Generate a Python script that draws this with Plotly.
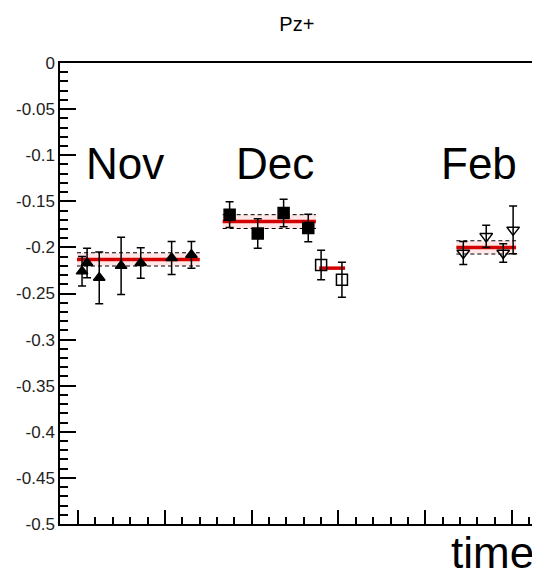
import plotly.graph_objects as go

# ---- data ----
nov_x = [0.23, 0.52, 1.22, 2.48, 3.61, 5.39, 6.53]
nov_y = [-0.226, -0.217, -0.233, -0.220, -0.217, -0.2115, -0.208]
nov_err = [0.016, 0.016, 0.028, 0.031, 0.0165, 0.018, 0.0145]

dec_x = [8.73, 10.35, 11.84, 13.26]
dec_y = [-0.1645, -0.185, -0.1627, -0.179]
dec_err = [0.014, 0.016, 0.015, 0.015]

dec2_x = [14.0, 15.2]
dec2_y = [-0.219, -0.235]
dec2_err = [0.016, 0.019]

feb_x = [22.19, 23.51, 24.49, 25.06]
feb_y = [-0.206, -0.188, -0.206, -0.181]
feb_err = [0.0125, 0.012, 0.010, 0.026]

# fits: [x_start, x_end], value, error
fit_nov_x = [-0.06, 7.01]; fit_nov_v = -0.213; fit_nov_e = 0.0072
fit_dec_x = [8.33, 13.7]; fit_dec_v = -0.172; fit_dec_e = 0.0075
fit_dec2_x = [13.89, 15.38]; fit_dec2_v = -0.2225; fit_dec2_e = 0.0
fit_feb_x = [21.79, 25.23]; fit_feb_v = -0.2; fit_feb_e = 0.0072

month_labels = ["Nov", "Dec", "Feb"]
month_x = [0.33, 8.97, 20.8]
month_y = [-0.109, -0.109, -0.109]

fig = go.Figure()

def add_fit(xr, v, e, show_dash=True):
    if e > 0:
        fig.add_trace(go.Scatter(x=[xr[0], xr[1], xr[1], xr[0], xr[0]],
                                 y=[v + e, v + e, v - e, v - e, v + e],
                                 fill="toself", fillcolor="rgba(255,120,120,0.18)",
                                 line=dict(width=0), mode="lines", hoverinfo="skip",
                                 showlegend=False))
    if show_dash and e > 0:
        for s in (1, -1):
            fig.add_trace(go.Scatter(x=xr, y=[v + s * e] * 2, mode="lines",
                                     line=dict(color="black", width=1, dash="4px,3px"),
                                     showlegend=False))
    fig.add_trace(go.Scatter(x=xr, y=[v, v], mode="lines",
                             line=dict(color="#d40000", width=3.5),
                             showlegend=False))

add_fit(fit_nov_x, fit_nov_v, fit_nov_e)
add_fit(fit_dec_x, fit_dec_v, fit_dec_e)
add_fit(fit_dec2_x, fit_dec2_v, fit_dec2_e, show_dash=False)
add_fit(fit_feb_x, fit_feb_v, fit_feb_e)

def add_pts(x, y, e, symbol, size):
    fig.add_trace(go.Scatter(
        x=x, y=y, mode="markers",
        marker=dict(symbol=symbol, size=size, color="black",
                    line=dict(color="black", width=1.5)),
        error_y=dict(type="data", array=e, visible=True, color="black",
                     thickness=1.5, width=4),
        showlegend=False))

add_pts(nov_x, nov_y, nov_err, "triangle-up", 10)
add_pts(dec_x, dec_y, dec_err, "square", 11)
add_pts(dec2_x, dec2_y, dec2_err, "square-open", 11)
add_pts(feb_x, feb_y, feb_err, "triangle-down-open", 11)

for t, x, y in zip(month_labels, month_x, month_y):
    fig.add_annotation(x=x, y=y, text=t, showarrow=False, xanchor="left",
                       yanchor="middle", font=dict(size=44, color="black",
                                                   family="Liberation Sans, Arial"))

fig.add_annotation(xref="paper", yref="paper", x=1.0, y=-0.062, text="time",
                   showarrow=False, xanchor="right", yanchor="middle", xshift=1,
                   font=dict(size=44, color="black", family="Liberation Sans, Arial"))

fig.update_layout(
    width=532, height=567,
    margin=dict(l=51.5, r=3, t=55.3, b=50.5),
    paper_bgcolor="white", plot_bgcolor="white",
    font=dict(family="Liberation Sans, Arial", color="#222"),
    title=dict(text="Pz+", x=0.543, xanchor="center", y=1 - 15.5 / 567,
               yanchor="middle", font=dict(size=20, color="black")),
    xaxis=dict(range=[-1.04, 26.32], showgrid=False, zeroline=False,
               showline=True, mirror=True, linecolor="black", linewidth=1.5,
               ticks="inside", ticklen=14, tickcolor="black", tickwidth=1.5,
               tick0=0, dtick=5, showticklabels=False,
               minor=dict(ticks="inside", ticklen=7, dtick=1, tick0=0,
                          tickcolor="black", tickwidth=1.5, showgrid=False)),
    yaxis=dict(range=[-0.5, 0.0], showgrid=False, zeroline=False,
               showline=True, mirror=True, linecolor="black", linewidth=1.5,
               ticks="inside", ticklen=16, tickcolor="black", tickwidth=1.5,
               tickvals=[0, -0.05, -0.1, -0.15, -0.2, -0.25, -0.3, -0.35, -0.4, -0.45, -0.5],
               ticktext=["0", "-0.05", "-0.1", "-0.15", "-0.2", "-0.25", "-0.3", "-0.35", "-0.4", "-0.45", "-0.5"],
               tickfont=dict(size=17, color="#222"),
               minor=dict(ticks="inside", ticklen=8, dtick=0.01, tick0=0,
                          tickcolor="black", tickwidth=1.5, showgrid=False)),
)

fig.write_html("out.html")
